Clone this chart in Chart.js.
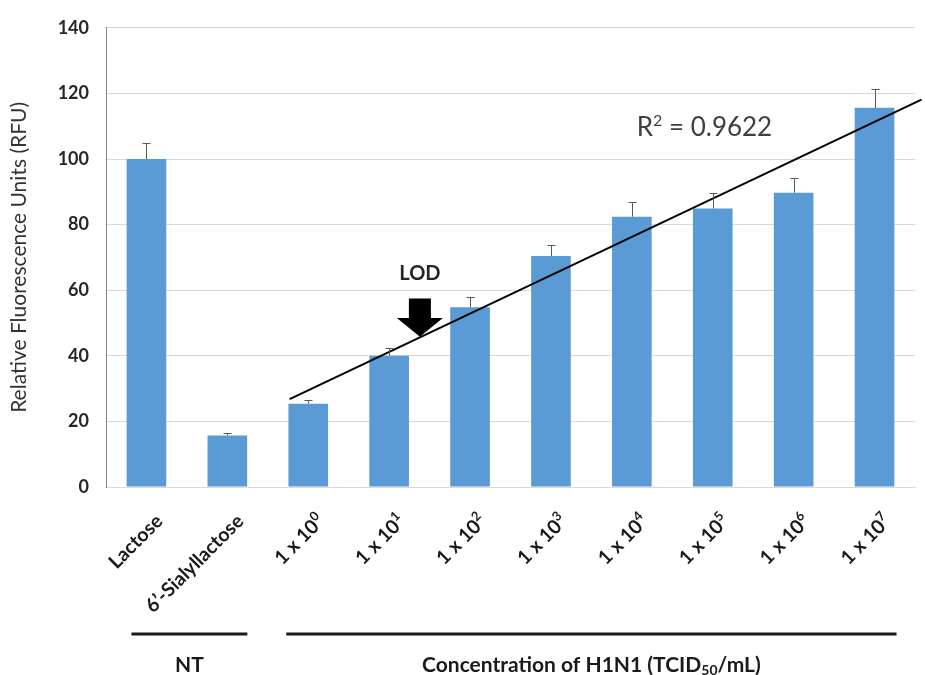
<!DOCTYPE html>
<html>
<head>
<meta charset="utf-8">
<script src="https://cdn.jsdelivr.net/npm/chart.js@4/dist/chart.umd.min.js"></script>
<style>
  html, body { margin: 0; padding: 0; background: #ffffff; }
  canvas { display: block; }
</style>
</head>
<body>
<canvas id="chart" width="925" height="675"></canvas>
<script>
// Category labels: "^" marks a superscript, "_" a subscript
const categories = ['Lactose', '6’-Sialyllactose', '1 x 10^0', '1 x 10^1', '1 x 10^2',
                    '1 x 10^3', '1 x 10^4', '1 x 10^5', '1 x 10^6', '1 x 10^7'];
// Mean relative fluorescence and its positive error
const rfu      = [100, 15.7, 25.4, 40.0, 54.8, 70.4, 82.4, 84.9, 89.7, 115.6];
const rfuError = [5.0, 0.7, 1.1, 2.3, 3.2, 3.3, 4.6, 4.6, 4.5, 5.8];
const yTicks   = [0, 20, 40, 60, 80, 100, 120, 140];

// Groups of categories under the axis
const groupLabels = ['NT', 'Concentration of H1N1 (TCID_50/mL)'];
const groupFirst  = [0, 2];
const groupLast   = [1, 9];

// Linear fit over the H1N1 dilution series
const fitFirst = 2;
const fitLast = 9;
const r2Label = 'R^2 = 0.9622';
const lodLabel = 'LOD';

function linearFit(vals) {
  const n = vals.length;
  const mx = (n - 1) / 2;
  const my = vals.reduce((s, v) => s + v, 0) / n;
  let sxy = 0, sxx = 0;
  vals.forEach((v, i) => { sxy += (i - mx) * (v - my); sxx += (i - mx) * (i - mx); });
  const slope = sxy / sxx;
  return { slope, intercept: my - slope * mx };
}
const fit = linearFit(rfu.slice(fitFirst, fitLast + 1));
// trendline drawn a little before the first and past the last point
const trendBack = -0.23, trendForward = 0.58;
const trendX = [fitFirst + trendBack, fitLast + trendForward];
const trendPoints = trendX.map(x => ({ x, y: fit.intercept + fit.slope * (x - fitFirst) }));

const FONT = 'Lato, "Liberation Sans", Arial, sans-serif';

// split "a^b" / "a_b" into plain and raised/lowered pieces
function parseRich(str) {
  const parts = [];
  const re = /([\^_])(\w+)/g;
  let last = 0, m;
  while ((m = re.exec(str)) !== null) {
    if (m.index > last) parts.push({ t: str.slice(last, m.index), k: '' });
    parts.push({ t: m[2], k: m[1] });
    last = re.lastIndex;
  }
  if (last < str.length) parts.push({ t: str.slice(last), k: '' });
  return parts;
}
function richWidth(ctx, parts, font, smallFont) {
  let w = 0;
  parts.forEach(p => { ctx.font = p.k ? smallFont : font; w += ctx.measureText(p.t).width; });
  return w;
}
function drawRich(ctx, str, x, y, align, font, smallFont, supShift, subShift) {
  const parts = parseRich(str);
  const w = richWidth(ctx, parts, font, smallFont);
  let cx = align === 'right' ? x - w : align === 'center' ? x - w / 2 : x;
  ctx.textAlign = 'left';
  parts.forEach(p => {
    ctx.font = p.k ? smallFont : font;
    const dy = p.k === '^' ? supShift : p.k === '_' ? subShift : 0;
    ctx.fillText(p.t, cx, y + dy);
    cx += ctx.measureText(p.t).width;
  });
}

const decorations = {
  id: 'decorations',
  afterDatasetsDraw(chart) {
    const ctx = chart.ctx;
    const x = chart.scales.x, y = chart.scales.y, xt = chart.scales.xt;

    // positive error bars
    ctx.save();
    ctx.strokeStyle = '#595959';
    ctx.lineWidth = 1;
    rfu.forEach((v, i) => {
      const px = Math.round(x.getPixelForValue(i)) + 0.5;
      const y0 = y.getPixelForValue(v);
      const y1 = Math.round(y.getPixelForValue(v + rfuError[i])) + 0.5;
      ctx.beginPath();
      ctx.moveTo(px, y0); ctx.lineTo(px, y1);
      ctx.moveTo(px - 4, y1); ctx.lineTo(px + 4, y1);
      ctx.stroke();
    });
    ctx.restore();

    // R² of the fit
    ctx.save();
    ctx.fillStyle = '#404040';
    ctx.textBaseline = 'alphabetic';
    drawRich(ctx, r2Label, xt.getPixelForValue(6.06), y.getPixelForValue(107), 'left',
             '26px ' + FONT, '16px ' + FONT, -10, 0);
    ctx.restore();

    // limit of detection marker
    const ax = xt.getPixelForValue(3.38);
    ctx.save();
    ctx.fillStyle = '#262626';
    ctx.font = 'bold 20px ' + FONT;
    ctx.textAlign = 'center';
    ctx.textBaseline = 'middle';
    ctx.fillText(lodLabel, ax, y.getPixelForValue(65));
    const top = y.getPixelForValue(57.5), neck = y.getPixelForValue(51.5), tip = y.getPixelForValue(45.8);
    ctx.fillStyle = '#000000';
    ctx.beginPath();
    ctx.moveTo(ax - 11, top); ctx.lineTo(ax + 11, top);
    ctx.lineTo(ax + 11, neck); ctx.lineTo(ax + 23, neck);
    ctx.lineTo(ax, tip);
    ctx.lineTo(ax - 23, neck); ctx.lineTo(ax - 11, neck);
    ctx.closePath();
    ctx.fill();
    ctx.restore();
  },
  afterDraw(chart) {
    const ctx = chart.ctx;
    const x = chart.scales.x;
    const area = chart.chartArea;

    // rotated category labels
    ctx.save();
    ctx.fillStyle = '#1a1a1a';
    ctx.textBaseline = 'middle';
    categories.forEach((c, i) => {
      ctx.save();
      ctx.translate(x.getPixelForValue(i) + 13, area.bottom + 31);
      ctx.rotate(-Math.PI / 4);
      drawRich(ctx, c, 0, 0, 'right', 'bold 19.5px ' + FONT, 'bold 13px ' + FONT, -6, 4);
      ctx.restore();
    });
    ctx.restore();

    // group brackets and their captions
    ctx.save();
    ctx.strokeStyle = '#1a1a1a';
    ctx.fillStyle = '#1a1a1a';
    ctx.lineWidth = 3;
    ctx.textBaseline = 'middle';
    groupLabels.forEach((g, i) => {
      const x1 = x.getPixelForValue(groupFirst[i]) - (i === 0 ? 15 : 22);
      const x2 = x.getPixelForValue(groupLast[i]) + (i === 0 ? 20 : 22);
      const ly = area.bottom + 147;
      ctx.beginPath();
      ctx.moveTo(x1, ly); ctx.lineTo(x2, ly);
      ctx.stroke();
      drawRich(ctx, g, (x1 + x2) / 2, area.bottom + 178, 'center',
               'bold 21px ' + FONT, 'bold 14px ' + FONT, -7, 5);
    });
    ctx.restore();
  }
};

new Chart(document.getElementById('chart'), {
  data: {
    labels: categories.map(c => c.replace(/[\^_]/g, '')),
    datasets: [
      {
        type: 'bar',
        label: 'RFU',
        data: rfu,
        backgroundColor: '#5b9bd5',
        borderWidth: 0,
        grouped: false,
        categoryPercentage: 1,
        barPercentage: 0.49,
        order: 1
      },
      {
        type: 'line',
        label: 'Linear fit',
        data: trendPoints,
        xAxisID: 'xt',
        borderColor: '#000000',
        borderWidth: 2,
        pointRadius: 0,
        fill: false,
        clip: false,
        order: 0
      }
    ]
  },
  options: {
    responsive: false,
    animation: false,
    events: [],
    layout: { padding: { top: 22, right: 10, left: 0, bottom: 0 } },
    plugins: { legend: { display: false }, tooltip: { enabled: false } },
    scales: {
      x: {
        type: 'category',
        offset: true,
        grid: { display: false, drawTicks: false },
        border: { display: true, color: '#d9d9d9' },
        ticks: { display: false },
        afterFit(scale) { scale.height = 188; }
      },
      xt: {
        type: 'linear',
        display: false,
        min: -0.5,
        max: categories.length - 0.5
      },
      y: {
        min: 0,
        max: 140,
        afterBuildTicks(scale) { scale.ticks = yTicks.map(v => ({ value: v })); },
        grid: { color: '#d9d9d9', drawTicks: false },
        border: { color: '#868686' },
        ticks: {
          padding: 17,
          color: '#262626',
          font: { family: FONT, size: 18, weight: 'bold' }
        },
        title: {
          display: true,
          text: 'Relative Fluorescence Units (RFU)',
          color: '#333333',
          font: { family: FONT, size: 21 },
          padding: { top: 7, bottom: 0 }
        },
        afterFit(scale) { scale.width = 106; }
      }
    }
  },
  plugins: [decorations]
});
</script>
</body>
</html>
